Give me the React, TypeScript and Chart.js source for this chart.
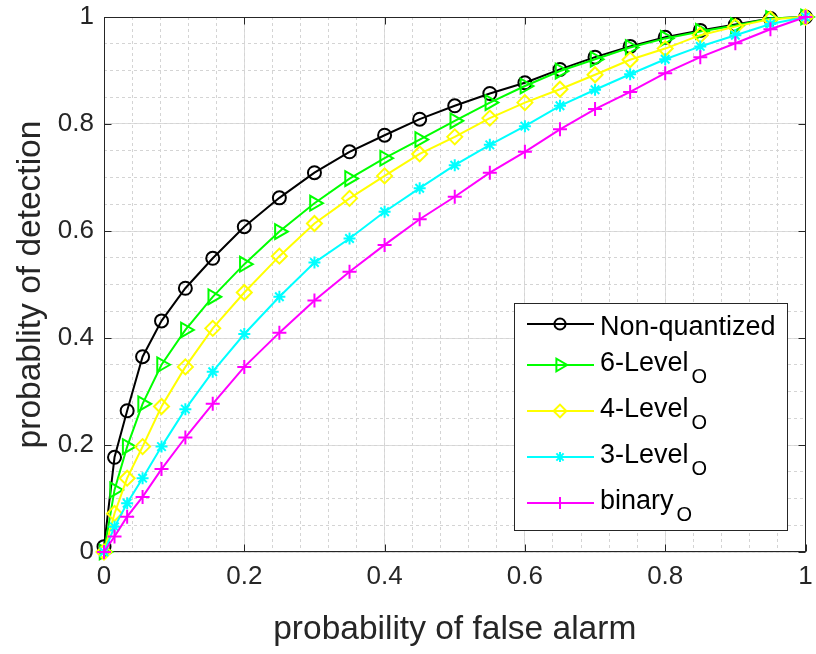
import React, { useEffect, useRef } from 'react';
import { Chart, registerables } from 'chart.js';

Chart.register(...registerables);

// ---- data ----
const PFA = [0, 0.015, 0.033, 0.055, 0.082, 0.116, 0.155, 0.2, 0.25, 0.3, 0.35, 0.4, 0.45, 0.5, 0.55, 0.6, 0.65, 0.7, 0.75, 0.8, 0.85, 0.9, 0.95, 1];
const PD_NONQUANTIZED = [0.01, 0.177, 0.264, 0.365, 0.432, 0.493, 0.549, 0.608, 0.662, 0.709, 0.748, 0.779, 0.809, 0.834, 0.857, 0.877, 0.902, 0.925, 0.945, 0.962, 0.975, 0.986, 0.997, 1];
const PD_6LEVEL = [0, 0.116, 0.197, 0.277, 0.35, 0.415, 0.477, 0.538, 0.599, 0.652, 0.698, 0.736, 0.771, 0.806, 0.84, 0.871, 0.899, 0.921, 0.943, 0.96, 0.973, 0.984, 0.997, 1];
const PD_4LEVEL = [0, 0.072, 0.138, 0.197, 0.272, 0.346, 0.418, 0.485, 0.553, 0.614, 0.661, 0.703, 0.744, 0.776, 0.811, 0.84, 0.865, 0.892, 0.92, 0.941, 0.966, 0.982, 0.996, 1];
const PD_3LEVEL = [0, 0.047, 0.091, 0.138, 0.197, 0.267, 0.337, 0.4075, 0.477, 0.541, 0.586, 0.636, 0.68, 0.723, 0.761, 0.796, 0.834, 0.864, 0.893, 0.921, 0.945, 0.966, 0.987, 1];
const PD_BINARY = [0, 0.029, 0.066, 0.103, 0.155, 0.214, 0.277, 0.346, 0.41, 0.47, 0.524, 0.574, 0.622, 0.664, 0.709, 0.748, 0.79, 0.828, 0.86, 0.895, 0.925, 0.951, 0.977, 1];

const SERIES_NAMES = ['Non-quantized', '6-Level', '4-Level', '3-Level', 'binary'];
const SERIES_SUBS = ['', 'O', 'O', 'O', 'O'];
const SERIES_VALUES = [PD_NONQUANTIZED, PD_6LEVEL, PD_4LEVEL, PD_3LEVEL, PD_BINARY];

const TICK_VALUES = [0, 0.2, 0.4, 0.6, 0.8, 1];
const TICK_LABELS = ['0', '0.2', '0.4', '0.6', '0.8', '1'];
const X_TITLE = 'probability of false alarm';
const Y_TITLE = 'probablity of detection';

// ---- styles ----
const COLORS = ['#000000', '#00ff00', '#ffff00', '#00ffff', '#ff00ff'];
const MARKERS = ['circle', 'triangle', 'rectRot', 'star', 'cross'];
const MARKER_RADII = [6.5, 8.5, 7.5, 6, 7];
const MARKER_ROT = [0, 90, 0, 0, 0];
const FONT = '"Liberation Sans", Arial, Helvetica, sans-serif';
const TEXT = '#262626';

function drawMarker(ctx: CanvasRenderingContext2D, style: string, x: number, y: number, r: number, rot: number, color: string) {
  ctx.save();
  ctx.strokeStyle = color;
  ctx.lineWidth = 2;
  ctx.beginPath();
  if (style === 'circle') {
    ctx.arc(x, y, r, 0, Math.PI * 2);
  } else if (style === 'triangle') {
    const a = (rot * Math.PI) / 180;
    for (let k = 0; k < 3; k++) {
      const t = a + (k * 2 * Math.PI) / 3;
      const px = x + Math.sin(t) * r;
      const py = y - Math.cos(t) * r;
      if (k === 0) ctx.moveTo(px, py); else ctx.lineTo(px, py);
    }
    ctx.closePath();
  } else if (style === 'rectRot') {
    ctx.moveTo(x - r, y); ctx.lineTo(x, y - r); ctx.lineTo(x + r, y); ctx.lineTo(x, y + r); ctx.closePath();
  } else if (style === 'star') {
    for (let k = 0; k < 4; k++) {
      const t = (k * Math.PI) / 4;
      ctx.moveTo(x - Math.cos(t) * r, y - Math.sin(t) * r);
      ctx.lineTo(x + Math.cos(t) * r, y + Math.sin(t) * r);
    }
  } else if (style === 'cross') {
    ctx.moveTo(x - r, y); ctx.lineTo(x + r, y); ctx.moveTo(x, y - r); ctx.lineTo(x, y + r);
  }
  ctx.stroke();
  ctx.restore();
}

const framePlugin = {
  id: 'matlabFrame',
  beforeDatasetsDraw(chart: any) {
    const { ctx, chartArea } = chart;
    const xs = chart.scales.x;
    const ys = chart.scales.y;
    const l = Math.round(chartArea.left) + 0.5;
    const r = Math.round(chartArea.right) - 0.5;
    const t = Math.round(chartArea.top) + 0.5;
    const b = Math.round(chartArea.bottom) - 0.5;
    ctx.save();
    ctx.strokeStyle = TEXT;
    ctx.lineWidth = 1;
    ctx.strokeRect(l, t, r - l, b - t);
    const tl = 7;
    ctx.beginPath();
    TICK_VALUES.forEach((v) => {
      const px = Math.round(xs.getPixelForValue(v)) + 0.5;
      ctx.moveTo(px, b); ctx.lineTo(px, b - tl);
      ctx.moveTo(px, t); ctx.lineTo(px, t + tl);
      const py = Math.round(ys.getPixelForValue(v)) + 0.5;
      ctx.moveTo(l, py); ctx.lineTo(l + tl, py);
      ctx.moveTo(r, py); ctx.lineTo(r - tl, py);
    });
    ctx.stroke();
    ctx.restore();
  },
};

const legendPlugin = {
  id: 'matlabLegend',
  afterDraw(chart: any) {
    const { ctx, chartArea } = chart;
    const w = 273;
    const h = 227;
    const right = Math.round(chartArea.right) - 19;
    const bottom = Math.round(chartArea.bottom) - 22;
    const left = right - w;
    const top = bottom - h;
    ctx.save();
    ctx.fillStyle = '#ffffff';
    ctx.fillRect(left, top, w, h);
    ctx.strokeStyle = TEXT;
    ctx.lineWidth = 1;
    ctx.strokeRect(left + 0.5, top + 0.5, w, h);
    let y = top + 3;
    SERIES_NAMES.forEach((name, i) => {
      const sub = SERIES_SUBS[i];
      const rh = sub ? 46 : 36;
      const cy = y + rh / 2;
      ctx.strokeStyle = COLORS[i];
      ctx.lineWidth = 2;
      ctx.beginPath();
      ctx.moveTo(left + 13, cy);
      ctx.lineTo(left + 80, cy);
      ctx.stroke();
      drawMarker(ctx, MARKERS[i], left + 46, cy, MARKER_RADII[i] * 0.85, MARKER_ROT[i], COLORS[i]);
      ctx.fillStyle = '#000000';
      ctx.textAlign = 'left';
      ctx.textBaseline = 'alphabetic';
      ctx.font = `27px ${FONT}`;
      const base = sub ? cy + 5.5 : cy + 10.5;
      ctx.fillText(name, left + 86, base);
      if (sub) {
        const tw = ctx.measureText(name).width;
        ctx.font = `20px ${FONT}`;
        ctx.fillText(sub, left + 86 + tw + 3, base + 12);
      }
      y += rh;
    });
    ctx.restore();
  },
};

export default function App() {
  const canvasRef = useRef<HTMLCanvasElement | null>(null);

  useEffect(() => {
    const canvas = canvasRef.current;
    if (!canvas) return;
    const datasets = SERIES_VALUES.map((vals, i) => ({
      label: SERIES_NAMES[i],
      data: PFA.map((x, k) => ({ x, y: vals[k] })),
      borderColor: COLORS[i],
      backgroundColor: COLORS[i],
      borderWidth: 2,
      pointStyle: MARKERS[i],
      pointRadius: MARKER_RADII[i],
      pointRotation: MARKER_ROT[i],
      pointBorderColor: COLORS[i],
      pointBackgroundColor: 'rgba(0,0,0,0)',
      pointBorderWidth: 2,
      tension: 0,
      clip: false,
      order: SERIES_NAMES.length - i,
    }));

    const chart = new Chart(canvas, {
      type: 'line',
      data: { datasets } as any,
      options: {
        animation: false,
        responsive: false,
        devicePixelRatio: 1,
        layout: { padding: { top: 17, right: 7, bottom: 0, left: 0 } },
        plugins: { legend: { display: false }, tooltip: { enabled: false } },
        scales: {
          x: {
            type: 'linear',
            position: 'bottom',
            min: 0,
            max: 1,
            afterBuildTicks: (s: any) => { s.ticks = TICK_VALUES.map((v) => ({ value: v })); },
            afterFit: (s: any) => { s.height = 102; s.paddingLeft = 0; s.paddingRight = 0; },
            ticks: {
              callback: (_v: any, i: number) => TICK_LABELS[i],
              padding: 9,
              color: TEXT,
              font: { family: FONT, size: 26 },
              maxRotation: 0,
              autoSkip: false,
            },
            grid: { color: '#dcdcdc', lineWidth: 1, drawTicks: false },
            border: { display: false },
            title: { display: true, text: X_TITLE, color: TEXT, font: { family: FONT, size: 33.5 }, padding: { top: 0, bottom: 4 } },
          },
          y: {
            type: 'linear',
            position: 'left',
            min: 0,
            max: 1,
            afterBuildTicks: (s: any) => { s.ticks = TICK_VALUES.map((v) => ({ value: v })); },
            afterFit: (s: any) => { s.width = 104; s.paddingTop = 0; s.paddingBottom = 0; },
            ticks: {
              callback: (_v: any, i: number) => TICK_LABELS[i],
              padding: 10,
              color: TEXT,
              font: { family: FONT, size: 26 },
              autoSkip: false,
            },
            grid: { color: '#dcdcdc', lineWidth: 1, drawTicks: false },
            border: { display: false },
            title: { display: true, text: Y_TITLE, color: TEXT, font: { family: FONT, size: 33.5 }, padding: { top: 11, bottom: 0 } },
          },
          xMinor: {
            type: 'linear',
            axis: 'x',
            position: 'bottom',
            min: 0,
            max: 1,
            z: -1,
            afterFit: (s: any) => { s.height = 0; s.paddingLeft = 0; s.paddingRight = 0; },
            ticks: { display: false, stepSize: 0.04 },
            grid: { color: '#d4d4d4', lineWidth: 1, drawTicks: false },
            border: { display: false, dash: [3, 3] },
          },
          yMinor: {
            type: 'linear',
            axis: 'y',
            position: 'left',
            min: 0,
            max: 1,
            z: -1,
            afterFit: (s: any) => { s.width = 0; s.paddingTop = 0; s.paddingBottom = 0; },
            ticks: { display: false, stepSize: 0.05 },
            grid: { color: '#d4d4d4', lineWidth: 1, drawTicks: false },
            border: { display: false, dash: [3, 3] },
          },
        } as any,
      },
      plugins: [framePlugin, legendPlugin],
    });
    return () => chart.destroy();
  }, []);

  return (
    <div style={{ position: 'absolute', left: 0, top: 0, width: 816, height: 654, background: '#ffffff' }}>
      <canvas ref={canvasRef} width={816} height={654} style={{ display: 'block' }} />
    </div>
  );
}
